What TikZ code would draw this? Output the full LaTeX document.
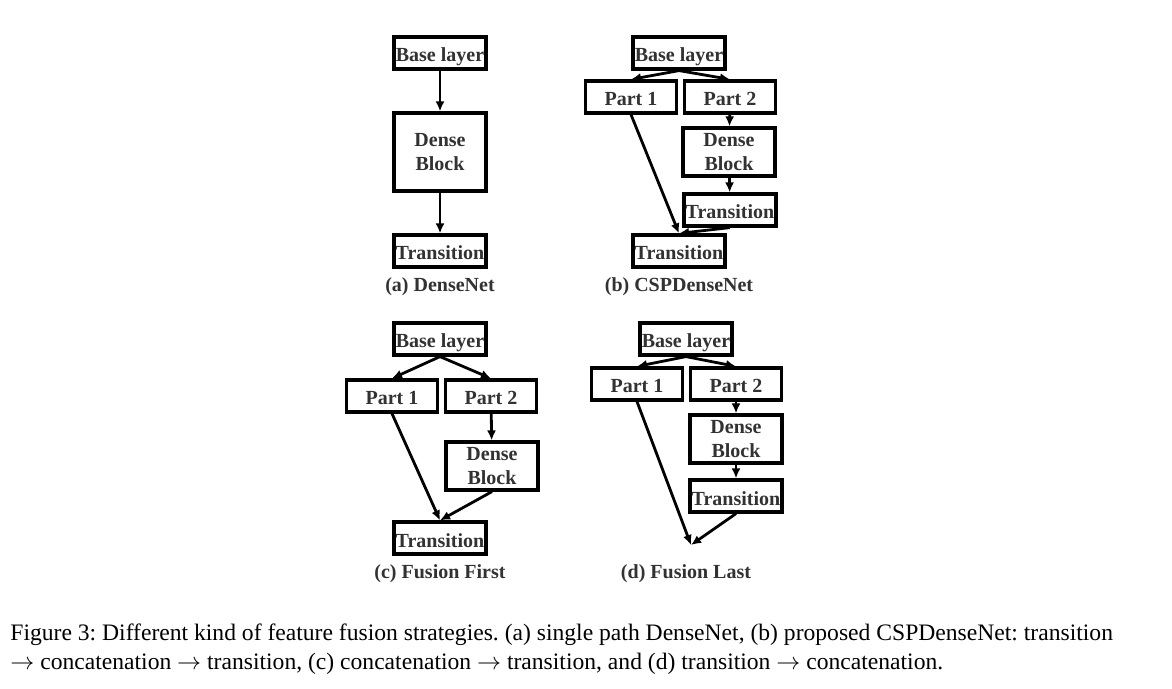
\documentclass[tikz,border=0pt]{standalone}
\usepackage{fontspec}
\setmainfont{Liberation Serif}
\usetikzlibrary{arrows.meta}
\definecolor{boxtext}{RGB}{50,50,50}
\frenchspacing
\tikzset{
  layerbox/.style={draw, line width=1.6pt, minimum width=46pt, minimum height=16pt,
                   inner sep=0pt, align=center, text=boxtext,
                   font=\fontsize{10}{12}\selectfont\bfseries},
  layer/.style={layerbox, text height=9pt, text depth=0pt},
  blockbox/.style={layerbox, minimum height=24pt},
  flow/.style={line width=1.4pt, -{Latex[length=5pt, width=4.5pt]}},
  sublabel/.style={anchor=base, text=boxtext, font=\fontsize{10}{12}\selectfont\bfseries},
  caption/.style={anchor=base west, inner sep=0pt, text height=8pt, text depth=2pt,
                  font=\fontsize{11.8}{13}\selectfont}
}
\begin{document}
\begin{tikzpicture}[x=0.5pt, y=-0.5pt]
    \useasboundingbox (0, 0) rectangle (1172, 689);

    % (a) DenseNet
    \node [layer] (abase) at (440, 53) {Base layer};
    \node [layerbox, minimum height=39pt] (adense) at (440, 152) {Dense\\Block};
    \node [layer] (atrans) at (440, 251) {Transition};
    \draw [flow] (abase) -- (adense);
    \draw [flow] (adense) -- (atrans);
    \node [sublabel] (alabel) at (440, 292) {(a) DenseNet};

    % (b) CSPDenseNet
    \node [layer] (bbase) at (679, 53) {Base layer};
    \node [layer, minimum width=45.5pt] (bpart1) at (631, 97) {Part 1};
    \node [layer, minimum width=45.5pt] (bpart2) at (730, 97) {Part 2};
    \node [blockbox] (bdense) at (729, 152) {Dense\\Block};
    \node [layer] (btrans2) at (730, 210) {Transition};
    \node [layer] (btrans) at (679, 251) {Transition};
    \draw [flow] (bbase.south) -- (bpart1.north);
    \draw [flow] (bbase.south) -- (bpart2.north);
    \draw [flow] (bpart2) -- (bdense);
    \draw [flow] (bdense) -- (btrans2);
    \draw [flow] (bpart1.south) -- (btrans.north);
    \draw [flow] (btrans2.south) -- (btrans.north);
    \node [sublabel] (blabel) at (679, 292) {(b) CSPDenseNet};

    % (c) Fusion First
    \node [layer] (cbase) at (440, 339) {Base layer};
    \node [layer, minimum width=45.5pt] (cpart1) at (392, 396) {Part 1};
    \node [layer, minimum width=45.5pt] (cpart2) at (491, 396) {Part 2};
    \node [blockbox] (cdense) at (492, 466) {Dense\\Block};
    \node [layer] (ctrans) at (440, 538) {Transition};
    \draw [flow] (cbase.south) -- (cpart1.north);
    \draw [flow] (cbase.south) -- (cpart2.north);
    \draw [flow] (cpart2) -- (cdense);
    \draw [flow] (cpart1.south) -- (ctrans.north);
    \draw [flow] (cdense.south) -- (ctrans.north);
    \node [sublabel] (clabel) at (440, 578) {(c) Fusion First};

    % (d) Fusion Last
    \node [layer] (dbase) at (686, 339) {Base layer};
    \node [layer, minimum width=45.5pt] (dpart1) at (637, 384) {Part 1};
    \node [layer, minimum width=45.5pt] (dpart2) at (736, 384) {Part 2};
    \node [blockbox] (ddense) at (736, 439) {Dense\\Block};
    \node [layer] (dtrans) at (736, 496) {Transition};
    \coordinate (dmerge) at (691, 545);
    \draw [flow] (dbase.south) -- (dpart1.north);
    \draw [flow] (dbase.south) -- (dpart2.north);
    \draw [flow] (dpart2) -- (ddense);
    \draw [flow] (ddense) -- (dtrans);
    \draw [flow] (dpart1.south) -- (dmerge);
    \draw [flow] (dtrans.south) -- (dmerge);
    \node [sublabel] (dlabel) at (686, 578) {(d) Fusion Last};

    % Caption
    \node [caption] (cap1) at (10, 640)
          {Figure 3: Different kind of feature fusion strategies. (a) single path DenseNet, (b) proposed CSPDenseNet: transition};
    \node [caption] (cap2) at (10, 669)
          {$\rightarrow$ concatenation $\rightarrow$ transition, (c) concatenation $\rightarrow$ transition, and (d) transition $\rightarrow$ concatenation.};
\end{tikzpicture}
\end{document}
